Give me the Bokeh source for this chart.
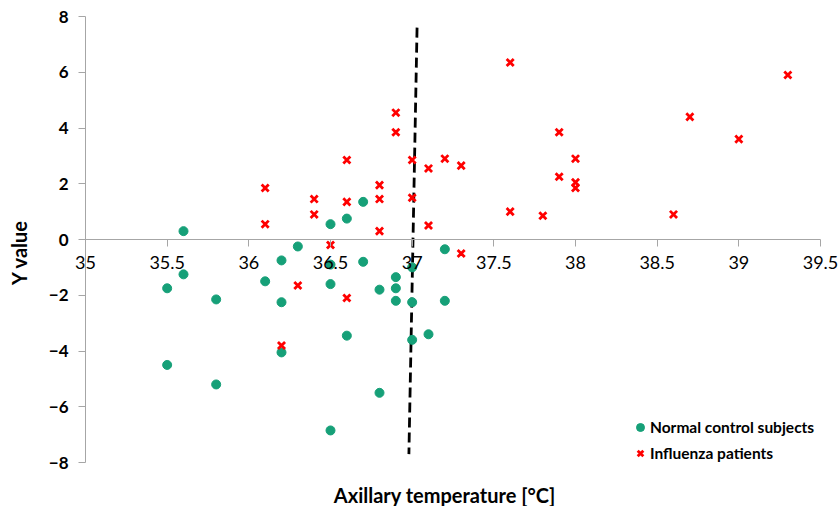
import math
from bokeh.plotting import figure
from bokeh.models import Range1d, FixedTicker, Label, Legend, LegendItem
from bokeh.embed import file_html
from bokeh.resources import INLINE

# Normal control subjects (green dots)
normal_x = [35.6, 36.3, 36.2, 36.5, 36.7, 35.6, 35.5, 35.8, 36.1, 36.2,
            36.5, 36.9, 36.9, 36.9, 36.8, 37.0, 37.0, 37.0, 37.1, 36.6,
            36.2, 35.5, 35.8, 36.8, 36.5, 37.2, 37.2, 36.5, 36.6, 36.7]
normal_y = [0.3, -0.25, -0.75, -0.9, -0.8, -1.25, -1.75, -2.15, -1.5, -2.25,
            -1.6, -1.35, -1.75, -2.2, -1.8, -1.0, -2.25, -3.6, -3.4, -3.45,
            -4.05, -4.5, -5.2, -5.5, -6.85, -2.2, -0.35, 0.55, 0.75, 1.35]

# Influenza patients (red crosses)
flu_x = [36.1, 36.1, 36.4, 36.4, 36.6, 36.6, 36.8, 36.8, 36.8, 36.9,
         36.9, 37.0, 37.0, 37.1, 37.1, 36.5, 37.2, 37.3, 37.3, 37.6,
         37.6, 37.8, 37.9, 37.9, 38.0, 38.0, 38.0, 38.6, 38.7, 39.0,
         39.3, 36.3, 36.6, 36.2]
flu_y = [1.85, 0.55, 1.45, 0.9, 2.85, 1.35, 1.95, 1.45, 0.3, 4.55,
         3.85, 2.85, 1.5, 2.55, 0.5, -0.2, 2.9, 2.65, -0.5, 6.35,
         1.0, 0.85, 3.85, 2.25, 2.9, 2.05, 1.85, 0.9, 4.4, 3.6,
         5.9, -1.65, -2.1, -3.8]

# Cut-off line at 37 °C
cutoff_x = [37.03, 36.98]
cutoff_y = [7.6, -7.7]

x_ticks = [35, 35.5, 36, 36.5, 37, 37.5, 38, 38.5, 39, 39.5]
y_ticks = [-8, -6, -4, -2, 0, 2, 4, 6, 8]

x_label = "Axillary temperature [°C]"
y_label = "Y value"
series_names = ["Normal control subjects", "Influenza patients"]

FONT = "Lato"
GREEN = "#16a078"
RED = "#ff0000"
AXIS_GRAY = "#a6a6a6"

# layout: canvas size and where the axis extents sit on it (pixels)
W, H = 838, 506
AX_LEFT, AX_RIGHT = 85, 820
AX_TOP, AX_BOTTOM = 16, 462
xmin, xmax = x_ticks[0], x_ticks[-1]
ymin, ymax = y_ticks[0], y_ticks[-1]
xs = (AX_RIGHT - AX_LEFT) / (xmax - xmin)
ys = (AX_BOTTOM - AX_TOP) / (ymax - ymin)
x_range = Range1d(xmin - AX_LEFT / xs, xmax + (W - AX_RIGHT) / xs)
y_range = Range1d(ymin - (H - AX_BOTTOM) / ys, ymax + AX_TOP / ys)

p = figure(width=W, height=H, x_range=x_range, y_range=y_range,
           output_backend="svg", toolbar_location=None,
           min_border=0, min_border_left=0, min_border_right=0,
           min_border_top=0, min_border_bottom=0)
p.outline_line_color = None
p.grid.visible = False

p.line(cutoff_x, cutoff_y, line_color="black", line_width=2.8, line_dash="10 5")

r_norm = p.scatter(normal_x, normal_y, marker="circle", size=9,
                   fill_color=GREEN, line_color=GREEN)
r_flu = p.scatter(flu_x, flu_y, marker="x", size=10, line_color=RED, line_width=2.8)

# x axis crossing at y = 0
xa = p.xaxis[0]
xa.fixed_location = 0
xa.bounds = (xmin, xmax)
xa.ticker = FixedTicker(ticks=x_ticks)
xa.axis_line_color = AXIS_GRAY
xa.major_tick_line_color = AXIS_GRAY
xa.major_tick_in = 0
xa.major_tick_out = 7
xa.minor_tick_line_color = None
xa.major_label_standoff = 9
xa.major_label_text_font = FONT
xa.major_label_text_font_size = "18px"
xa.major_label_text_color = "black"

# y axis at x = 35
ya = p.yaxis[0]
ya.fixed_location = xmin
ya.bounds = (ymin, ymax)
ya.ticker = FixedTicker(ticks=y_ticks)
ya.axis_line_color = AXIS_GRAY
ya.major_tick_line_color = AXIS_GRAY
ya.major_tick_in = 0
ya.major_tick_out = 7
ya.minor_tick_line_color = None
ya.major_label_standoff = 10
ya.major_label_text_font = FONT
ya.major_label_text_font_style = "bold"
ya.major_label_text_font_size = "17px"
ya.major_label_text_color = "black"

p.add_layout(Label(x=37.2, y=-9.15, text=x_label, text_align="center",
                   text_baseline="middle", text_font=FONT, text_font_style="bold",
                   text_font_size="20px", text_color="black"))
p.add_layout(Label(x=34.59, y=-0.46, text=y_label, angle=math.pi / 2,
                   text_align="center", text_baseline="middle", text_font=FONT,
                   text_font_style="bold", text_font_size="20px", text_color="black"))

legend = Legend(items=[LegendItem(label=series_names[0], renderers=[r_norm]),
                       LegendItem(label=series_names[1], renderers=[r_flu])],
                location=(630, 40), orientation="vertical",
                border_line_color=None, background_fill_alpha=0,
                padding=0, spacing=0, margin=0,
                glyph_width=20, glyph_height=26, label_height=26, label_standoff=0,
                label_text_font=FONT, label_text_font_style="bold",
                label_text_font_size="15.5px", label_text_color="black")
p.add_layout(legend)

open("out.html", "w").write(file_html(p, INLINE))
